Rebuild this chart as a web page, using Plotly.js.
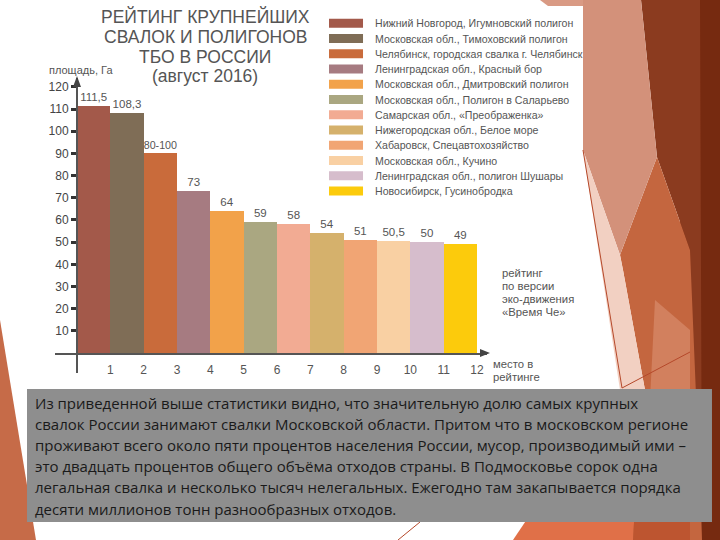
<!DOCTYPE html>
<html><head><meta charset="utf-8">
<script src="https://cdn.plot.ly/plotly-3.0.1.min.js"></script>
<style>html,body{margin:0;padding:0;background:#fff}#chart{width:720px;height:540px}</style>
</head><body><div id="chart"></div>
<script>
// ---- data ----
const ranks = [1,2,3,4,5,6,7,8,9,10,11,12];
const areaValues = [111.5,108.3,90,73,64,59,58,54,51,50.5,50,49];
const valueLabels = ['111,5','108,3','80-100','73','64','59','58','54','51','50,5','50','49'];
const categories = [
  'Нижний Новгород, Игумновский полигон',
  'Московская обл., Тимоховский полигон',
  'Челябинск, городская свалка г. Челябинск',
  'Ленинградская обл., Красный бор',
  'Московская обл., Дмитровский полигон',
  'Московская обл., Полигон в Саларьево',
  'Самарская обл., «Преображенка»',
  'Нижегородская обл., Белое море',
  'Хабаровск, Спецавтохозяйство',
  'Московская обл., Кучино',
  'Ленинградская обл., полигон Шушары',
  'Новосибирск, Гусинобродка'
];
const barColors = ['#a3594a','#7f6d56','#c96b3b','#a67b81','#f2a24a','#aaa781','#f2ab93','#d5b16c','#f1a574','#f9d0a3','#d6bdcc','#fccb0c'];
const yTickVals = [10,20,30,40,50,60,70,80,90,100,110,120];
const rankTickLabels = ['1','2','3','4','5','6','7','8','9','10','11','12'];
const titleLines = ['РЕЙТИНГ КРУПНЕЙШИХ','СВАЛОК И ПОЛИГОНОВ','ТБО В РОССИИ','(август 2016)'];
const noteLines = ['рейтинг','по версии','эко-движения','«Время Че»'];
const xTitleLines = ['место в','рейтинге'];
const paragraphLines = [
  'Из приведенной выше статистики видно, что значительную долю самых крупных',
  'свалок России занимают свалки Московской области. Притом что в московском регионе',
  'проживают всего около пяти процентов населения России, мусор, производимый ими –',
  'это двадцать процентов общего объёма отходов страны. В Подмосковье сорок одна',
  'легальная свалка и несколько тысяч нелегальных. Ежегодно там закапывается порядка',
  'десяти миллионов тонн разнообразных отходов.'
];

// ---- layout helpers (pixel -> paper) ----
const L = 55, T = 78, W = 432, H = 295;
const px = v => (v - L) / W;
const py = v => (T + H - v) / H;
function poly(pts, color, layer) {
  const d = pts.map((p, i) => (i ? 'L' : 'M') + px(p[0]).toFixed(4) + ',' + py(p[1]).toFixed(4)).join(' ') + ' Z';
  return {type:'path', xref:'paper', yref:'paper', path:d, fillcolor:color, line:{width:0}, layer:layer||'below'};
}
function seg(x0,y0,x1,y1,color,w){
  return {type:'line', xref:'paper', yref:'paper', x0:px(x0), y0:py(y0), x1:px(x1), y1:py(y1), line:{color:color, width:w}, layer:'below'};
}
const txt = (x, y, text, size, color, anchor, font) => ({
  xref:'paper', yref:'paper', x:px(x), y:py(y), text:text, showarrow:false,
  xanchor:anchor||'left', yanchor:'middle',
  font:{family:font||'Liberation Sans, Arial, sans-serif', size:size, color:color}
});

const shapes = [];
const annotations = [];

// decorative slide background
shapes.push(poly([[680,0],[720,0],[720,540],[680,540]], '#762a10'));
shapes.push(poly([[641,0],[700,0],[702,540],[690,540],[690,250],[657,157]], '#8b3b1f'));
shapes.push(poly([[657,157],[690,250],[702,540],[600,540],[645,390],[623,270],[620,255]], '#c4663f'));
shapes.push(poly([[655,300],[690,330],[690,400],[650,400]], '#d2805e'));
shapes.push(poly([[583,0],[641,0],[657,157],[620,255],[583,150]], '#d3917a'));
shapes.push(poly([[583,150],[620,255],[623,270],[645,390],[620,390]], '#f2d0c2'));
shapes.push(poly([[513,540],[550,485],[640,420],[633,540]], '#e07048'));
shapes.push(poly([[633,540],[640,420],[690,400],[690,540]], '#bd5530'));
shapes.push(poly([[540,0],[583,0],[583,6],[548,6]], '#d99a84'));
shapes.push(poly([[0,320],[36,540],[0,540]], '#c66b48'));
shapes.push(seg(583,150,622,388,'#b5482a',1));
shapes.push(seg(622,388,690,352,'#b5482a',1));
shapes.push(seg(420,522,398,540,'#b5482a',1));

// text box
shapes.push(poly([[27,389],[712,389],[712,522],[27,522]], '#8e8e8e'));

// axis arrows
shapes.push(poly([[73,87],[81,87],[77,76]], '#444', 'above'));
shapes.push(poly([[480,349],[480,357],[490,353]], '#444', 'above'));

// title
titleLines.forEach((t, i) => annotations.push(txt(205, [17,37,57,76][i], t, 17.5, '#555', 'center')));
annotations.push(txt(81, 70, 'площадь, Га', 11, '#555', 'center'));

// legend
categories.forEach((c, i) => {
  const yc = 23.3 + i * 15.25;
  shapes.push(poly([[329,yc-4.5],[363,yc-4.5],[363,yc+4.5],[329,yc+4.5]], barColors[i]));
  annotations.push(txt(373, yc, c, 10.6, '#555'));
});

// notes
noteLines.forEach((t, i) => annotations.push(txt(500, 273 + i * 13, t, 11.3, '#555')));
xTitleLines.forEach((t, i) => annotations.push(txt(491, 364 + i * 13, t, 11.3, '#555')));

// paragraph
paragraphLines.forEach((t, i) => annotations.push(txt(33, 403 + i * 21.1, t, 15, '#1a1a1a', 'left', 'Open Sans, sans-serif')));

const trace = {
  type:'bar', x:ranks, y:areaValues, width:1,
  marker:{color:barColors, line:{width:0}},
  text:valueLabels, textposition:'outside', cliponaxis:false,
  textfont:{family:'Liberation Sans, Arial, sans-serif', size:11.5, color:'#555'},
  hoverinfo:'skip'
};

const layout = {
  width:720, height:540,
  margin:{l:L, r:720-L-W, t:T, b:540-T-H, pad:0},
  paper_bgcolor:'#ffffff', plot_bgcolor:'rgba(0,0,0,0)',
  showlegend:false, bargap:0,
  xaxis:{range:[-0.16,12.8], anchor:'free', position:py(353),
    showline:true, linecolor:'#555', linewidth:1.5, showgrid:false, zeroline:false,
    tickvals:ranks.map(r => r + 0.5), ticktext:rankTickLabels,
    ticks:'outside', ticklen:5, tickcolor:'rgba(0,0,0,0)',
    tickfont:{family:'Liberation Sans, Arial, sans-serif', size:12, color:'#555'}},
  yaxis:{range:[-9,124], anchor:'free', position:px(77),
    showline:true, linecolor:'#555', linewidth:2, showgrid:false, zeroline:false,
    tickvals:yTickVals, ticks:'outside', ticklen:5, tickwidth:3, tickcolor:'#333',
    tickfont:{family:'Liberation Sans, Arial, sans-serif', size:12, color:'#444'}},
  shapes:shapes, annotations:annotations
};

Plotly.newPlot('chart', [trace], layout, {staticPlot:true, displayModeBar:false});
</script></body></html>
